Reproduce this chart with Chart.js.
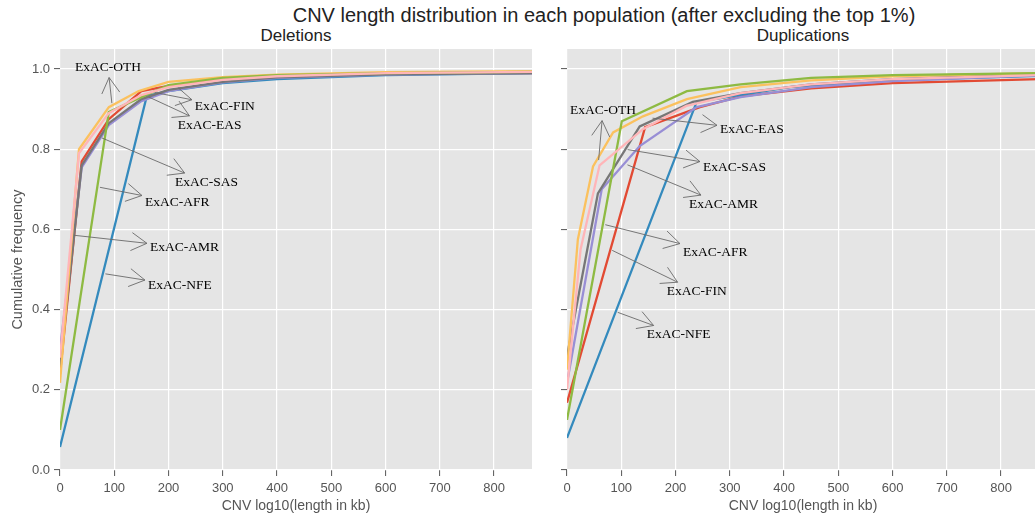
<!DOCTYPE html>
<html>
<head>
<meta charset="utf-8">
<script src="https://cdn.jsdelivr.net/npm/chart.js@4"></script>
<style>
  html, body { margin:0; padding:0; background:#fff; width:1035px; height:519px; overflow:hidden; }
  .abs { position:absolute; white-space:nowrap; line-height:1.15; }
  #title { left:0; width:1208px; top:4px; text-align:center; font:20px "Liberation Sans", Arial, sans-serif; color:#222; }
  .sub { top:26px; text-align:center; font:17px "Liberation Sans", Arial, sans-serif; color:#222; }
  canvas { position:absolute; top:0; }
</style>
</head>
<body>
<div id="title" class="abs">CNV length distribution in each population (after excluding the top 1%)</div>
<div class="abs sub" style="left:60px;width:472px;">Deletions</div>
<div class="abs sub" style="left:567px;width:472px;">Duplications</div>
<canvas id="del" width="540" height="519" style="left:0;width:540px;height:519px;"></canvas>
<canvas id="dup" width="505" height="519" style="left:540px;width:505px;height:519px;"></canvas>
<script>
// ---------------- data: Deletions ----------------
const delFIN_x = [0, 40, 90, 150, 200, 300, 400, 600, 870];
const delFIN_y = [0.24, 0.77, 0.875, 0.945, 0.958, 0.975, 0.982, 0.988, 0.99];
const delNFE_x = [0, 160, 200, 300, 400, 600, 870];
const delNFE_y = [0.0575, 0.933, 0.945, 0.965, 0.975, 0.985, 0.99];
const delAMR_x = [0, 40, 90, 150, 200, 300, 400, 600, 870];
const delAMR_y = [0.30, 0.755, 0.86, 0.92, 0.945, 0.967, 0.978, 0.986, 0.99];
const delEAS_x = [0, 40, 90, 150, 200, 300, 400, 600, 870];
const delEAS_y = [0.26, 0.76, 0.865, 0.925, 0.948, 0.968, 0.979, 0.987, 0.99];
const delOTH_x = [0, 35, 90, 145, 200, 300, 400, 600, 870];
const delOTH_y = [0.2175, 0.80, 0.905, 0.945, 0.968, 0.98, 0.986, 0.992, 0.995];
const delAFR_x = [0, 90, 150, 200, 300, 400, 600, 870];
const delAFR_y = [0.10, 0.893, 0.93, 0.96, 0.978, 0.985, 0.99, 0.993];
const delSAS_x = [0, 35, 90, 150, 200, 300, 400, 600, 870];
const delSAS_y = [0.28, 0.79, 0.89, 0.935, 0.955, 0.973, 0.982, 0.99, 0.993];

// ---------------- data: Duplications ----------------
const dupFIN_x = [0, 144, 245, 320, 450, 600, 870];
const dupFIN_y = [0.168, 0.855, 0.905, 0.932, 0.952, 0.965, 0.975];
const dupNFE_x = [0, 239, 411, 600, 870];
const dupNFE_y = [0.08, 0.918, 0.955, 0.972, 0.983];
const dupAMR_x = [0, 64, 134, 239, 320, 450, 600, 870];
const dupAMR_y = [0.217, 0.70, 0.808, 0.905, 0.93, 0.955, 0.97, 0.985];
const dupEAS_x = [0, 57, 134, 232, 320, 450, 600, 870];
const dupEAS_y = [0.283, 0.69, 0.857, 0.918, 0.94, 0.962, 0.975, 0.988];
const dupOTH_x = [0, 20, 48, 85, 140, 221, 320, 450, 600, 870];
const dupOTH_y = [0.25, 0.575, 0.757, 0.842, 0.882, 0.925, 0.955, 0.972, 0.982, 0.99];
const dupAFR_x = [0, 101, 221, 320, 450, 600, 870];
const dupAFR_y = [0.125, 0.87, 0.945, 0.962, 0.978, 0.985, 0.99];
const dupSAS_x = [0, 25, 60, 140, 220, 320, 450, 600, 870];
const dupSAS_y = [0.20, 0.55, 0.76, 0.85, 0.908, 0.94, 0.962, 0.975, 0.985];

// population names / colours (plot order)
const populations = ['ExAC-FIN', 'ExAC-NFE', 'ExAC-AMR', 'ExAC-EAS', 'ExAC-OTH', 'ExAC-AFR', 'ExAC-SAS'];
const colors = ['#E24A33', '#348ABD', '#988ED5', '#777777', '#FBC15E', '#8EBA42', '#FFB5B8'];

// axis ticks
const xTickStep = 100;
const xMax = 870;
const yTickStep = 0.2;
const yMax = 1.05;

// annotation labels
const delLabels = ['ExAC-OTH', 'ExAC-FIN', 'ExAC-EAS', 'ExAC-SAS', 'ExAC-AFR', 'ExAC-AMR', 'ExAC-NFE'];
const delTextX  = [27.6, 248.6, 217, 212, 156.5, 165.7, 162];
const delTextY  = [1.005, 0.9075, 0.86, 0.7175, 0.6675, 0.555, 0.46];
const delPointX = [96, 171, 160, 74, 70, 22, 80];
const delPointY = [0.91, 0.9425, 0.9325, 0.83, 0.706, 0.586, 0.49];

const dupLabels = ['ExAC-OTH', 'ExAC-EAS', 'ExAC-SAS', 'ExAC-AMR', 'ExAC-AFR', 'ExAC-FIN', 'ExAC-NFE'];
const dupTextX  = [5.5, 282, 250.5, 224.7, 213.6, 184, 147];
const dupTextY  = [0.8975, 0.85, 0.755, 0.6625, 0.5425, 0.445, 0.3375];
const dupPointX = [58, 154, 108, 108, 67, 80, 90];
const dupPointY = [0.768, 0.878, 0.80, 0.763, 0.613, 0.55, 0.395];

function zip(xs, ys) { return xs.map((x, i) => ({x: x, y: ys[i]})); }

const delSeries = [[delFIN_x, delFIN_y], [delNFE_x, delNFE_y], [delAMR_x, delAMR_y], [delEAS_x, delEAS_y],
                   [delOTH_x, delOTH_y], [delAFR_x, delAFR_y], [delSAS_x, delSAS_y]];
const dupSeries = [[dupFIN_x, dupFIN_y], [dupNFE_x, dupNFE_y], [dupAMR_x, dupAMR_y], [dupEAS_x, dupEAS_y],
                   [dupOTH_x, dupOTH_y], [dupAFR_x, dupAFR_y], [dupSAS_x, dupSAS_y]];

function buildDatasets(series) {
  const ds = series.map((s, i) => ({
    label: populations[i],
    data: zip(s[0], s[1]),
    borderColor: colors[i],
    backgroundColor: colors[i],
    borderWidth: 2.3,
    pointRadius: 0,
    showLine: true,
    fill: false,
    tension: 0
  }));
  return ds.reverse();
}

const bgPlugin = {
  id: 'plotBg',
  beforeDraw(chart) {
    const a = chart.chartArea, ctx = chart.ctx;
    ctx.save();
    ctx.fillStyle = '#E5E5E5';
    ctx.fillRect(a.left, a.top, a.right - a.left, a.bottom - a.top);
    ctx.restore();
  }
};

const arrowPlugin = {
  id: 'arrowLabels',
  afterDatasetsDraw(chart, args, opts) {
    const ctx = chart.ctx, xs = chart.scales.x, ys = chart.scales.y;
    ctx.save();
    ctx.font = '13.5px "Liberation Serif", "Times New Roman", serif';
    ctx.textBaseline = 'middle';
    ctx.textAlign = 'left';
    const h = 15;
    opts.labels.forEach((lab, i) => {
      const px = xs.getPixelForValue(opts.textX[i]);
      const py = ys.getPixelForValue(opts.textY[i]);
      const tx = xs.getPixelForValue(opts.pointX[i]);
      const ty = ys.getPixelForValue(opts.pointY[i]);
      const w = ctx.measureText(lab).width;
      const cx = px + w / 2, cy = py;
      let dx = tx - cx, dy = ty - cy;
      const len = Math.hypot(dx, dy);
      const ux = dx / len, uy = dy / len;
      const t = Math.min(Math.abs(dx) > 1e-6 ? (w / 2 + 1) / Math.abs(ux) : 1e9,
                         Math.abs(dy) > 1e-6 ? (h / 2 + 1) / Math.abs(uy) : 1e9);
      const sx = cx + ux * (t + 2), sy = cy + uy * (t + 2);
      const ex = tx - ux * 2, ey = ty - uy * 2;
      ctx.strokeStyle = '#6a6a6a';
      ctx.lineWidth = 0.9;
      ctx.beginPath();
      ctx.moveTo(sx, sy); ctx.lineTo(ex, ey);
      const hl = 18, ang = 30 * Math.PI / 180;
      for (const s of [-1, 1]) {
        const c = Math.cos(s * ang), sn = Math.sin(s * ang);
        const hx = ux * c - uy * sn, hy = ux * sn + uy * c;
        ctx.moveTo(sx, sy); ctx.lineTo(sx + hx * hl, sy + hy * hl);
      }
      ctx.stroke();
      ctx.fillStyle = '#000';
      ctx.fillText(lab, px, py);
    });
    ctx.restore();
  }
};

function makeChart(id, series, ann, isLeft) {
  return new Chart(document.getElementById(id), {
    type: 'scatter',
    data: { datasets: buildDatasets(series) },
    plugins: [bgPlugin, arrowPlugin],
    options: {
      responsive: false,
      animation: false,
      devicePixelRatio: 1,
      layout: { padding: { top: 49, right: isLeft ? 8 : 6, bottom: 0, left: 0 } },
      plugins: {
        legend: { display: false },
        tooltip: { enabled: false },
        title: { display: false },
        arrowLabels: ann
      },
      scales: {
        x: {
          type: 'linear', min: 0, max: xMax,
          border: { display: false },
          grid: { color: '#FFFFFF', lineWidth: 1.2, drawTicks: true, tickColor: '#555555', tickLength: 6, tickWidth: 1 },
          ticks: { stepSize: xTickStep, includeBounds: false, color: '#555555', padding: 5, maxRotation: 0,
                   font: { family: '"Liberation Sans", Arial, sans-serif', size: 13 } },
          title: { display: true, text: 'CNV log10(length in kb)', color: '#555555',
                   font: { family: '"Liberation Sans", Arial, sans-serif', size: 14 }, padding: { top: 0, bottom: 4 } },
          afterFit: s => { s.height = 49; }
        },
        y: {
          type: 'linear', min: 0, max: yMax,
          border: { display: false },
          grid: { color: '#FFFFFF', lineWidth: 1.2, drawTicks: true, tickColor: '#555555', tickLength: 6, tickWidth: 1 },
          ticks: { stepSize: yTickStep, includeBounds: false, color: '#555555', padding: 4,
                   font: { family: '"Liberation Sans", Arial, sans-serif', size: 13 },
                   callback: v => isLeft ? Number(v).toFixed(1) : '' },
          title: { display: isLeft, text: 'Cumulative frequency', color: '#555555',
                   font: { family: '"Liberation Sans", Arial, sans-serif', size: 14.5 }, padding: { top: 9, bottom: 0 } },
          afterFit: s => { s.width = isLeft ? 60 : 27; }
        }
      }
    }
  });
}

makeChart('del', delSeries, { labels: delLabels, textX: delTextX, textY: delTextY, pointX: delPointX, pointY: delPointY }, true);
makeChart('dup', dupSeries, { labels: dupLabels, textX: dupTextX, textY: dupTextY, pointX: dupPointX, pointY: dupPointY }, false);
</script>
</body>
</html>
